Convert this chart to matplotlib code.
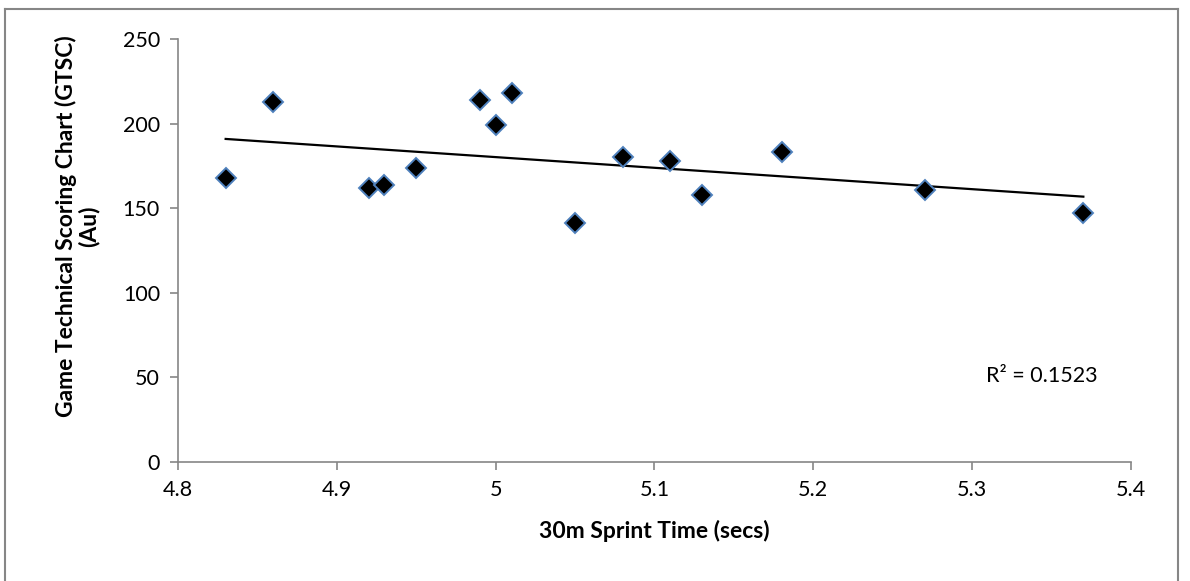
import matplotlib

matplotlib.use("Agg")

import matplotlib.pyplot as plt
import numpy as np
from matplotlib.lines import Line2D

plt.rcParams["font.family"] = ["Lato", "DejaVu Sans"]

# 30m sprint time (secs) vs GTSC score (Au)
sprint_time = [4.83, 4.86, 4.92, 4.93, 4.95, 4.99, 5.00, 5.01, 5.05, 5.08, 5.11, 5.13, 5.18, 5.27, 5.37]
gtsc_score = [168, 213, 162, 164, 174, 214, 199, 218, 141, 180, 178, 158, 183, 161, 147]

x_ticks = [4.8, 4.9, 5.0, 5.1, 5.2, 5.3, 5.4]
x_tick_labels = ["4.8", "4.9", "5", "5.1", "5.2", "5.3", "5.4"]
y_ticks = [0, 50, 100, 150, 200, 250]

AXIS_GREY = "#868686"
FONT_SIZE = 15.5
LABEL_SIZE = 16.5

fig = plt.figure(figsize=(11.9, 5.81), dpi=100)
ax = fig.add_axes([178 / 1190, 1 - 462 / 581, (1131 - 178) / 1190, (462 - 39) / 581])

x = np.array(sprint_time)
y = np.array(gtsc_score)
slope, intercept = np.polyfit(x, y, 1)
line_x = np.array([x.min(), x.max()])
ax.plot(line_x, slope * line_x + intercept, color="black", linewidth=1.6, zorder=2)

ax.plot(x, y, linestyle="none", marker="D", markersize=10, markerfacecolor="black",
        markeredgecolor="#4f81bd", markeredgewidth=1.4, zorder=3)

ax.text(5.309, 51, "R² = 0.1523", fontsize=FONT_SIZE, ha="left", va="center")

ax.set_xlim(4.8, 5.4)
ax.set_ylim(0, 250)
ax.set_xticks(x_ticks)
ax.set_xticklabels(x_tick_labels)
ax.set_yticks(y_ticks)

for side in ["top", "right"]:
    ax.spines[side].set_visible(False)
for side in ["left", "bottom"]:
    ax.spines[side].set_color(AXIS_GREY)
    ax.spines[side].set_linewidth(1.2)
ax.tick_params(axis="both", direction="out", length=6, width=1.2, color=AXIS_GREY,
               labelsize=FONT_SIZE, pad=7)

ax.set_xlabel("30m Sprint Time (secs)", fontsize=LABEL_SIZE, fontweight="bold", labelpad=14)
ax.set_ylabel("Game Technical Scoring Chart (GTSC)\n(Au)", fontsize=LABEL_SIZE, fontweight="bold",
              linespacing=1.05)
ax.yaxis.set_label_coords(-0.082, 0.558)

# chart area border (top, left, right)
fig.add_artist(Line2D([5 / 1190, 5 / 1190], [0, 1 - 9 / 581], color=AXIS_GREY, linewidth=1.5))
fig.add_artist(Line2D([1178 / 1190, 1178 / 1190], [0, 1 - 9 / 581], color=AXIS_GREY, linewidth=1.5))
fig.add_artist(Line2D([5 / 1190, 1178 / 1190], [1 - 9 / 581, 1 - 9 / 581], color=AXIS_GREY, linewidth=1.5))

fig.savefig("out.png", dpi=100)
plt.close(fig)
